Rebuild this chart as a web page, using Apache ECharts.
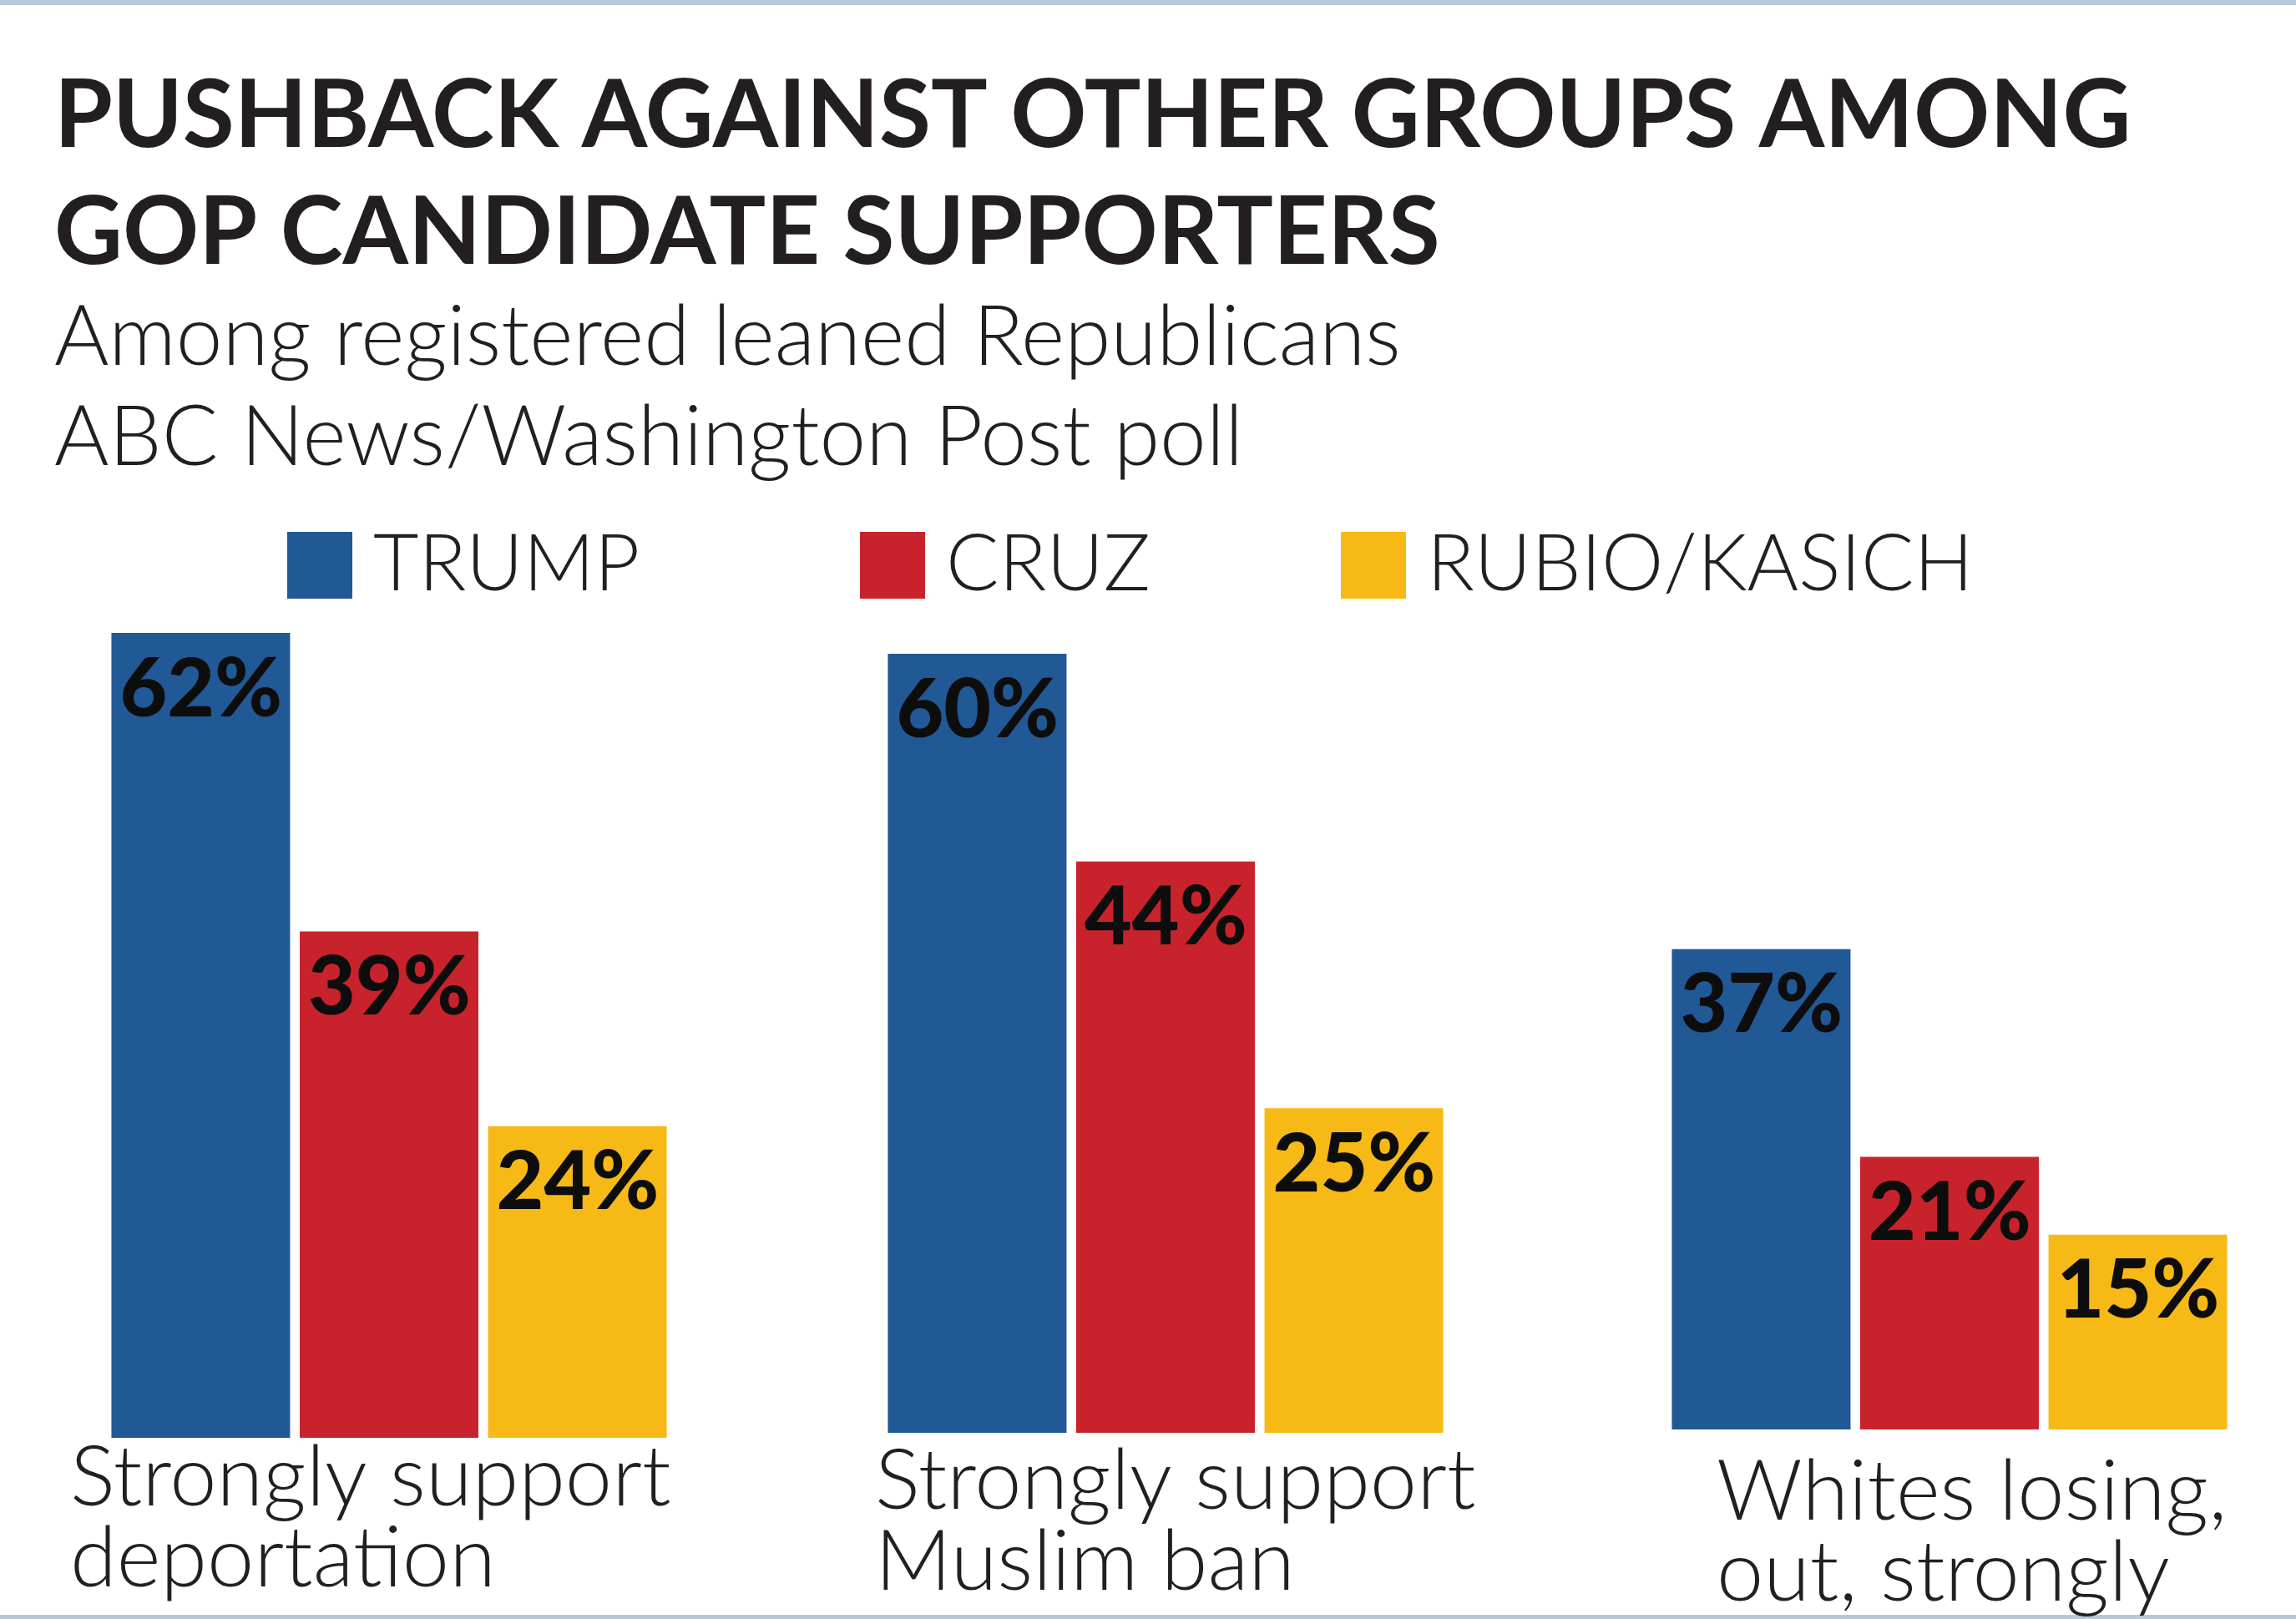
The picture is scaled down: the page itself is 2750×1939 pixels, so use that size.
<!DOCTYPE html>
<html>
<head>
<meta charset="utf-8">
<script src="https://cdn.jsdelivr.net/npm/echarts@6/dist/echarts.min.js"></script>
<style>
html,body{margin:0;padding:0;background:#fff;}
#chart{width:2750px;height:1939px;}
</style>
</head>
<body>
<div id="chart"></div>
<script>
// ---- data ----
const categories = ['Strongly support\ndeportation', 'Strongly support\nMuslim ban', 'Whites losing,\nout, strongly'];
const seriesNames = ['TRUMP', 'CRUZ', 'RUBIO/KASICH'];
const trump = [62, 60, 37];
const cruz = [39, 44, 21];
const rubioKasich = [24, 25, 15];
const titleText = 'PUSHBACK AGAINST OTHER GROUPS AMONG\nGOP CANDIDATE SUPPORTERS';
const subtitleText = 'Among registered leaned Republicans\nABC News/Washington Post poll';

// ---- styling / layout ----
const colors = ['#215896', '#c8232c', '#f6b916'];
const values = [trump, cruz, rubioKasich];
const groupCenters = [466, 1396, 2335];
const baselines = [1722, 1716, 1712];
const labelPadLeft = [-382, -348, -279];
const labelMargins = [0, 10, 27];
const legendLefts = [339, 1025, 1601];
const pxPerUnit = 15.55;
const yMax = 100;
const FONT = 'Lato';

const grids = [], xAxes = [], yAxes = [], series = [];
categories.forEach((cat, g) => {
  const h = yMax * pxPerUnit;
  grids.push({left: groupCenters[g] - 400, width: 800, top: baselines[g] - h, height: h});
  xAxes.push({
    type: 'category', gridIndex: g, data: [cat],
    axisLine: {show: false}, axisTick: {show: false}, splitLine: {show: false},
    axisLabel: {
      show: true, interval: 0, align: 'left', verticalAlign: 'top',
      margin: labelMargins[g], padding: [0, 0, 0, labelPadLeft[g]],
      fontFamily: FONT, fontWeight: 300, fontSize: 101, lineHeight: 97, color: '#231f20'
    }
  });
  yAxes.push({type: 'value', gridIndex: g, min: 0, max: yMax, show: false, splitLine: {show: false}});
  seriesNames.forEach((name, c) => {
    series.push({
      type: 'bar', name: name, xAxisIndex: g, yAxisIndex: g,
      data: [values[c][g]],
      barWidth: 214, barGap: '5.4%',
      itemStyle: {color: colors[c]},
      label: {
        show: true, position: 'insideTopLeft', distance: 10, offset: [0, 9],
        formatter: '{c}%', fontFamily: FONT, fontWeight: 900, fontSize: 98, color: '#0d0d0d'
      }
    });
  });
});

const legends = seriesNames.map((name, i) => ({
  data: [name], left: legendLefts[i], top: 625,
  itemWidth: 78, itemHeight: 80, icon: 'rect', selectedMode: false,
  textStyle: {fontFamily: FONT, fontWeight: 300, fontSize: 94, color: '#231f20', padding: [0, 0, 0, 20]}
}));

const chart = echarts.init(document.getElementById('chart'));
chart.setOption({
  animation: false,
  backgroundColor: '#ffffff',
  color: colors,
  title: [
    {text: titleText, left: 60, top: 65,
     textStyle: {fontFamily: FONT, fontWeight: 'bold', fontSize: 113, lineHeight: 140, color: '#231f20'}},
    {text: subtitleText, left: 60, top: 340,
     textStyle: {fontFamily: FONT, fontWeight: 300, fontSize: 100, lineHeight: 120, color: '#231f20'}}
  ],
  legend: legends,
  grid: grids,
  xAxis: xAxes,
  yAxis: yAxes,
  series: series,
  graphic: [
    {type: 'rect', shape: {x: 0, y: 0, width: 2750, height: 6}, style: {fill: '#b9c7da'}},
    {type: 'rect', shape: {x: 0, y: 1934, width: 2750, height: 5}, style: {fill: '#b9c7da'}}
  ]
});
</script>
</body>
</html>
